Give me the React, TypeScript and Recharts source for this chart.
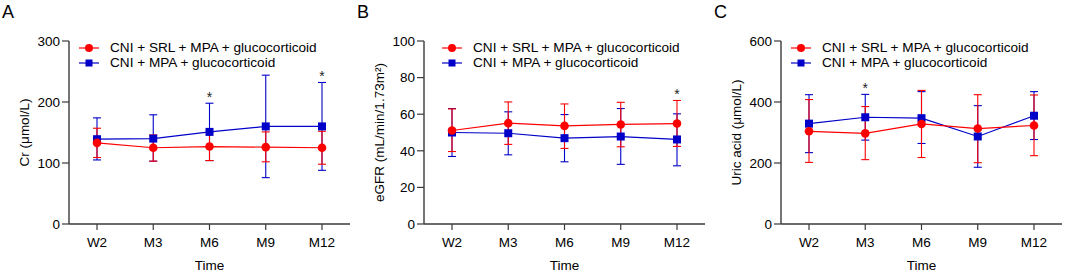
import React from "react";
import { LineChart, Line, XAxis, YAxis, ErrorBar, Legend } from "recharts";

const timePoints = ["W2", "M3", "M6", "M9", "M12"];
const seriesNames = ["CNI + SRL + MPA + glucocorticoid", "CNI + MPA + glucocorticoid"];

// A: Cr (µmol/L)
const crSrlMean = [133, 125, 127, 126, 125];
const crSrlUpper = [157, 146, 150, 151, 152];
const crSrlLower = [109, 103, 104, 102, 98];
const crCtrlMean = [139, 140, 151, 160, 160];
const crCtrlUpper = [174, 179, 198, 244, 232];
const crCtrlLower = [105, 103, 104, 76, 88];
const crStars = ["M6", "M12"];
const crTicks = [0, 100, 200, 300];

// B: eGFR (mL/min/1.73m²)
const egfrSrlMean = [51.1, 55.1, 53.6, 54.4, 54.9];
const egfrSrlUpper = [62.9, 66.7, 65.6, 66.5, 67.5];
const egfrSrlLower = [39.6, 43.5, 41.3, 42.2, 42.4];
const egfrCtrlMean = [50.0, 49.6, 46.9, 47.8, 46.2];
const egfrCtrlUpper = [63.1, 61.3, 59.8, 63.1, 60.2];
const egfrCtrlLower = [36.9, 37.8, 34.0, 32.6, 31.8];
const egfrStars = ["M12"];
const egfrTicks = [0, 20, 40, 60, 80, 100];

// C: Uric acid (µmol/L)
const uaSrlMean = [304, 297, 328, 313, 323];
const uaSrlUpper = [408, 385, 438, 424, 423];
const uaSrlLower = [202, 211, 218, 201, 224];
const uaCtrlMean = [329, 350, 347, 287, 355];
const uaCtrlUpper = [424, 425, 434, 388, 434];
const uaCtrlLower = [234, 275, 264, 186, 277];
const uaStars = ["M3"];
const uaTicks = [0, 200, 400, 600];

const RED = "#ff0000";
const BLUE = "#0000c8";
const AXIS = "#3a3a3a";
const FONT = "Arial, 'Liberation Sans', Helvetica, sans-serif";

function buildRows(
  srlMean: number[], srlUpper: number[], srlLower: number[],
  ctrlMean: number[], ctrlUpper: number[], ctrlLower: number[],
  stars: string[]
) {
  return timePoints.map((time, i) => ({
    time,
    srl: srlMean[i],
    srlErr: [srlMean[i] - srlLower[i], srlUpper[i] - srlMean[i]],
    ctrl: ctrlMean[i],
    ctrlErr: [ctrlMean[i] - ctrlLower[i], ctrlUpper[i] - ctrlMean[i]],
    star: stars.includes(time) ? Math.max(srlUpper[i], ctrlUpper[i]) : null,
  }));
}

function SquareDot(props: any) {
  const { cx, cy } = props;
  if (cx == null || cy == null) return <g />;
  return <rect x={cx - 4} y={cy - 4} width={8} height={8} fill={BLUE} />;
}

function CircleDot(props: any) {
  const { cx, cy } = props;
  if (cx == null || cy == null) return <g />;
  return <circle cx={cx} cy={cy} r={4.3} fill={RED} />;
}

function StarDot(props: any) {
  const { cx, cy, value } = props;
  if (value == null || cx == null || cy == null) return <g />;
  return (
    <text x={cx} y={cy - 1} textAnchor="middle" fontSize={14} fontFamily={FONT} fill="#222">
      *
    </text>
  );
}

function YTitle({ viewBox, text }: any) {
  if (!viewBox) return null;
  const cx = viewBox.x + viewBox.width - 45;
  const cy = viewBox.y + viewBox.height / 2;
  return (
    <text
      x={cx}
      y={cy}
      transform={`rotate(-90 ${cx} ${cy})`}
      textAnchor="middle"
      dominantBaseline="central"
      fontSize={13.5}
      fontFamily={FONT}
      fill="#000"
    >
      {text}
    </text>
  );
}

function XTitle({ viewBox }: any) {
  if (!viewBox) return null;
  return (
    <text
      x={viewBox.x + viewBox.width / 2}
      y={viewBox.y + 45.5}
      textAnchor="middle"
      fontSize={13.5}
      fontFamily={FONT}
      fill="#000"
    >
      Time
    </text>
  );
}

function LegendBox() {
  return (
    <div style={{ fontFamily: FONT, fontSize: 13.6, color: "#000" }}>
      {seriesNames.map((name, i) => (
        <div key={name} style={{ display: "flex", alignItems: "center", height: 14.7 }}>
          <svg width={31} height={12} style={{ display: "block" }}>
            <line x1={0} x2={20} y1={6} y2={6} stroke={i === 0 ? RED : BLUE} strokeWidth={1.2} />
            {i === 0 ? (
              <circle cx={10} cy={6} r={4} fill={RED} />
            ) : (
              <rect x={6.5} y={2.5} width={7} height={7} fill={BLUE} />
            )}
          </svg>
          <span style={{ whiteSpace: "nowrap", lineHeight: "14px" }}>{name}</span>
        </div>
      ))}
    </div>
  );
}

interface PanelProps {
  left: number;
  width: number;
  letter: string;
  yTitle: string;
  ticks: number[];
  rows: ReturnType<typeof buildRows>;
  legendLeft: number;
}

function Panel({ left, width, letter, yTitle, ticks, rows, legendLeft }: PanelProps) {
  return (
    <div style={{ position: "absolute", left, top: 0, width, height: 272 }}>
      <div
        style={{
          position: "absolute",
          left: 2,
          top: 1,
          fontFamily: FONT,
          fontSize: 18,
          lineHeight: "22px",
          color: "#000",
        }}
      >
        {letter}
      </div>
      <LineChart
        width={width}
        height={272}
        data={rows}
        margin={{ top: 41, right: width - 69 - 281, bottom: 0, left: 0 }}
      >
        <XAxis
          dataKey="time"
          padding={{ left: 28, right: 28 }}
          height={48}
          tickSize={6}
          tickMargin={7}
          axisLine={{ stroke: AXIS, strokeWidth: 1.4 }}
          tickLine={{ stroke: AXIS, strokeWidth: 1.2 }}
          tick={{ fontSize: 13.5, fontFamily: FONT, fill: "#000" }}
          interval={0}
          label={<XTitle />}
        />
        <YAxis
          width={69}
          domain={[ticks[0], ticks[ticks.length - 1]]}
          ticks={ticks}
          interval={0}
          tickSize={7}
          tickMargin={2}
          axisLine={{ stroke: AXIS, strokeWidth: 1.4 }}
          tickLine={{ stroke: AXIS, strokeWidth: 1.2 }}
          tick={{ fontSize: 13.5, fontFamily: FONT, fill: "#000" }}
          label={<YTitle text={yTitle} />}
        />
        <Legend
          layout="vertical"
          align="center"
          verticalAlign="middle"
          content={() => <LegendBox />}
          wrapperStyle={{ left: legendLeft, top: 41, width: "auto", height: "auto" }}
        />
        <Line
          dataKey="ctrl"
          stroke={BLUE}
          strokeWidth={1.2}
          dot={(p: any) => <SquareDot key={`sq-${p.index}`} {...p} />}
          activeDot={false}
          isAnimationActive={false}
        >
          <ErrorBar dataKey="ctrlErr" width={4} stroke={BLUE} strokeWidth={1.1} direction="y" />
        </Line>
        <Line
          dataKey="srl"
          stroke={RED}
          strokeWidth={1.2}
          dot={(p: any) => <CircleDot key={`ci-${p.index}`} {...p} />}
          activeDot={false}
          isAnimationActive={false}
        >
          <ErrorBar dataKey="srlErr" width={4} stroke={RED} strokeWidth={1.1} direction="y" />
        </Line>
        <Line
          dataKey="star"
          stroke="none"
          dot={(p: any) => <StarDot key={`st-${p.index}`} {...p} />}
          activeDot={false}
          legendType="none"
          isAnimationActive={false}
        />
      </LineChart>
    </div>
  );
}

export default function App() {
  const crRows = buildRows(crSrlMean, crSrlUpper, crSrlLower, crCtrlMean, crCtrlUpper, crCtrlLower, crStars);
  const egfrRows = buildRows(
    egfrSrlMean, egfrSrlUpper, egfrSrlLower, egfrCtrlMean, egfrCtrlUpper, egfrCtrlLower, egfrStars
  );
  const uaRows = buildRows(uaSrlMean, uaSrlUpper, uaSrlLower, uaCtrlMean, uaCtrlUpper, uaCtrlLower, uaStars);

  return (
    <div style={{ position: "absolute", left: 0, top: 0, width: 1065, height: 272, background: "#fff" }}>
      <Panel left={0} width={355} letter="A" yTitle="Cr (μmol/L)" ticks={crTicks} rows={crRows} legendLeft={79} />
      <Panel
        left={355}
        width={357}
        letter="B"
        yTitle="eGFR (mL/min/1.73m²)"
        ticks={egfrTicks}
        rows={egfrRows}
        legendLeft={87}
      />
      <Panel
        left={712}
        width={353}
        letter="C"
        yTitle="Uric acid (μmol/L)"
        ticks={uaTicks}
        rows={uaRows}
        legendLeft={79}
      />
    </div>
  );
}
